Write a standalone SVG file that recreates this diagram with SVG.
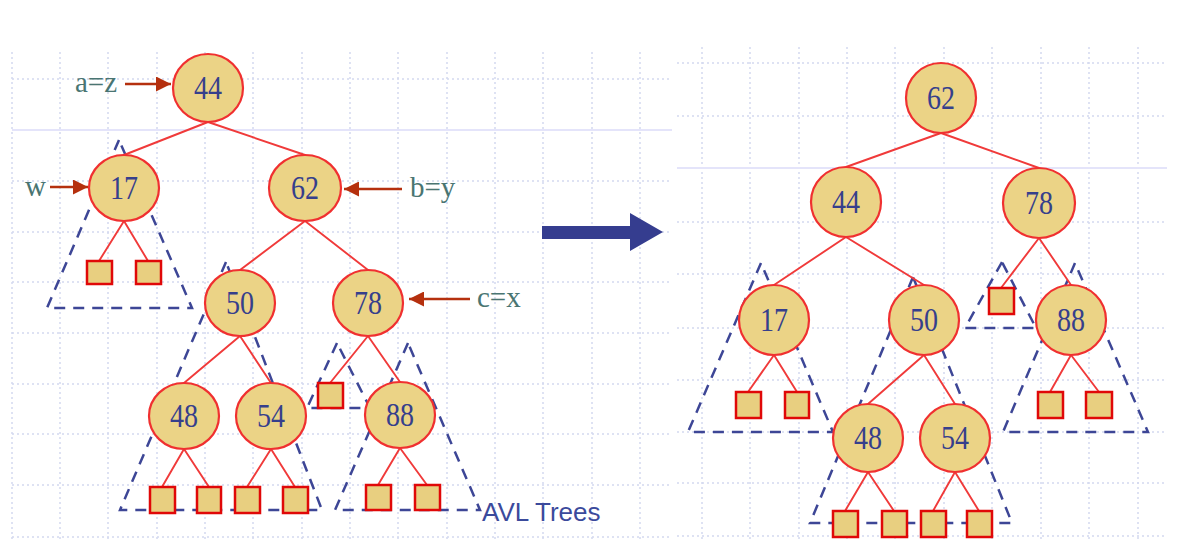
<svg xmlns="http://www.w3.org/2000/svg" width="1187" height="559" viewBox="0 0 1187 559">
<style>
.g{stroke:#d3d9f0;stroke-width:1.5;stroke-dasharray:2 3;fill:none}
.gs{stroke:#e4e4fa;stroke-width:2;fill:none}
.tri{fill:none;stroke:#3d4696;stroke-width:2.5;stroke-dasharray:11 8}
.e{stroke:#f03a3a;stroke-width:1.9;fill:none}
.n{fill:#ebd386;stroke:#f03030;stroke-width:2.2}
.sq{fill:#e8cf80;stroke:#e00808;stroke-width:2.5}
.t{font-family:"Liberation Serif","Times New Roman",serif;font-size:33px;fill:#363f8c;text-anchor:middle}
.l{font-family:"Liberation Serif","Times New Roman",serif;font-size:29px;fill:#4a7572}
.ar{stroke:#b5300e;stroke-width:2.5;fill:none;marker-end:url(#ah)}
</style>
<defs>
<marker id="ah" viewBox="0 0 10 10" refX="10" refY="5" markerWidth="6" markerHeight="6" orient="auto" markerUnits="strokeWidth">
<path d="M0,0 L10,5 L0,10 z" fill="#b5300e"/>
</marker>
</defs>
<rect width="1187" height="559" fill="#ffffff"/>
<g id="grid">
<path class="g" d="M12,52V540M60,52V540M108,52V540M157,52V540M205,52V540M253,52V540M302,52V540M350,52V540M398,52V540M447,52V540M495,52V540M543,52V540M592,52V540M640,52V540"/>
<path class="g" d="M12,79H672M12,181H672M12,232H672M12,282H672M12,333H672M12,384H672M12,434H672M12,485H672M12,537H672"/>
<path class="gs" d="M12,130H672"/>
<path class="g" d="M702,47V540M750,47V540M799,47V540M847,47V540M895,47V540M944,47V540M992,47V540M1041,47V540M1089,47V540M1138,47V540"/>
<path class="g" d="M677,63H1167M677,116H1167M677,222H1167M677,274H1167M677,328H1167M677,380H1167M677,432H1167M677,483H1167M677,536H1167"/>
<path class="gs" d="M677,168H1167"/>
</g>
<g id="subtrees">
<path class="tri" d="M119,140L47,308H192Z"/>
<path class="tri" d="M226,262L120,510H322Z"/>
<path class="tri" d="M337,343L307,408H370Z"/>
<path class="tri" d="M408,343L335,510H480Z"/>
<path class="tri" d="M761,263L688,432H833Z"/>
<path class="tri" d="M913,277L810,523H1012Z"/>
<path class="tri" d="M1002,262L965,328H1036Z"/>
<path class="tri" d="M1075,263L1003,432H1148Z"/>
</g>
<g id="connectors">
<path class="e" d="M208,122L124,155M208,122L305,155M124,221L99,261M124,221L148,261M305,221L240,270M305,221L368,270M240,336L184,383M240,336L271,383M368,336L330,383M368,336L400,382M184,449L162,487M184,449L209,487M271,449L247,487M271,449L295,487M400,448L378,485M400,448L427,485"/>
<path class="e" d="M941,133L846,167M941,133L1039,168M846,237L774,285M846,237L924,285M1039,238L1001,288M1039,238L1071,285M774,355L748,392M774,355L797,392M924,355L868,404M924,355L955,404M1071,355L1050,392M1071,355L1099,392M868,472L845,511M868,472L894,511M955,472L933,511M955,472L979,511"/>
<path class="ar" d="M125,84H171"/>
<path class="ar" d="M50,187H88"/>
<path class="ar" d="M402,189H344"/>
<path class="ar" d="M470,299H409"/>
<path d="M542,226H630V213L663,232L630,251V239H542Z" fill="#353d8f"/>
</g>
<g id="labels">
<text class="l" x="75" y="92">a=z</text>
<text class="l" x="25" y="196">w</text>
<text class="l" x="410" y="197">b=y</text>
<text class="l" x="477" y="307">c=x</text>
<text x="482" y="521" font-family="Liberation Sans, Arial, sans-serif" font-size="26" fill="#3b4a9c">AVL Trees</text>
</g>
<g id="n44a"><ellipse class="n" cx="208" cy="88" rx="35" ry="34"/><text class="t" x="208" y="99" textLength="28" lengthAdjust="spacingAndGlyphs">44</text></g>
<g id="n17a"><ellipse class="n" cx="124" cy="188" rx="35" ry="33"/><text class="t" x="124" y="199" textLength="28" lengthAdjust="spacingAndGlyphs">17</text></g>
<g id="n62a"><ellipse class="n" cx="305" cy="188" rx="36" ry="33"/><text class="t" x="305" y="199" textLength="28" lengthAdjust="spacingAndGlyphs">62</text></g>
<g id="n50a"><ellipse class="n" cx="240" cy="303" rx="35" ry="33"/><text class="t" x="240" y="314" textLength="28" lengthAdjust="spacingAndGlyphs">50</text></g>
<g id="n78a"><ellipse class="n" cx="368" cy="303" rx="35" ry="33"/><text class="t" x="368" y="314" textLength="28" lengthAdjust="spacingAndGlyphs">78</text></g>
<g id="n48a"><ellipse class="n" cx="184" cy="416" rx="35" ry="33"/><text class="t" x="184" y="427" textLength="28" lengthAdjust="spacingAndGlyphs">48</text></g>
<g id="n54a"><ellipse class="n" cx="271" cy="416" rx="35" ry="33"/><text class="t" x="271" y="427" textLength="28" lengthAdjust="spacingAndGlyphs">54</text></g>
<g id="n88a"><ellipse class="n" cx="400" cy="415" rx="35" ry="33"/><text class="t" x="400" y="426" textLength="28" lengthAdjust="spacingAndGlyphs">88</text></g>
<g id="leavesA">
<rect class="sq" x="87" y="261" width="25" height="23"/>
<rect class="sq" x="136" y="261" width="25" height="23"/>
<rect class="sq" x="318" y="383" width="25" height="25"/>
<rect class="sq" x="150" y="487" width="25" height="26"/>
<rect class="sq" x="197" y="487" width="24" height="26"/>
<rect class="sq" x="235" y="487" width="25" height="26"/>
<rect class="sq" x="283" y="487" width="25" height="26"/>
<rect class="sq" x="366" y="485" width="25" height="25"/>
<rect class="sq" x="415" y="485" width="25" height="25"/>
</g>
<g id="n62b"><ellipse class="n" cx="941" cy="98" rx="35" ry="35"/><text class="t" x="941" y="109" textLength="28" lengthAdjust="spacingAndGlyphs">62</text></g>
<g id="n44b"><ellipse class="n" cx="846" cy="202" rx="35" ry="35"/><text class="t" x="846" y="213" textLength="28" lengthAdjust="spacingAndGlyphs">44</text></g>
<g id="n78b"><ellipse class="n" cx="1039" cy="203" rx="36" ry="35"/><text class="t" x="1039" y="214" textLength="28" lengthAdjust="spacingAndGlyphs">78</text></g>
<g id="n17b"><ellipse class="n" cx="774" cy="320" rx="35" ry="35"/><text class="t" x="774" y="331" textLength="28" lengthAdjust="spacingAndGlyphs">17</text></g>
<g id="n50b"><ellipse class="n" cx="924" cy="320" rx="35" ry="35"/><text class="t" x="924" y="331" textLength="28" lengthAdjust="spacingAndGlyphs">50</text></g>
<g id="n88b"><ellipse class="n" cx="1071" cy="320" rx="35" ry="35"/><text class="t" x="1071" y="331" textLength="28" lengthAdjust="spacingAndGlyphs">88</text></g>
<g id="n48b"><ellipse class="n" cx="868" cy="438" rx="35" ry="34"/><text class="t" x="868" y="449" textLength="28" lengthAdjust="spacingAndGlyphs">48</text></g>
<g id="n54b"><ellipse class="n" cx="955" cy="438" rx="35" ry="34"/><text class="t" x="955" y="449" textLength="28" lengthAdjust="spacingAndGlyphs">54</text></g>
<g id="leavesB">
<rect class="sq" x="989" y="288" width="25" height="26"/>
<rect class="sq" x="736" y="392" width="25" height="26"/>
<rect class="sq" x="785" y="392" width="24" height="26"/>
<rect class="sq" x="1038" y="392" width="25" height="26"/>
<rect class="sq" x="1086" y="392" width="26" height="26"/>
<rect class="sq" x="833" y="511" width="25" height="26"/>
<rect class="sq" x="882" y="511" width="25" height="26"/>
<rect class="sq" x="921" y="511" width="25" height="26"/>
<rect class="sq" x="967" y="511" width="25" height="26"/>
</g>
</svg>
